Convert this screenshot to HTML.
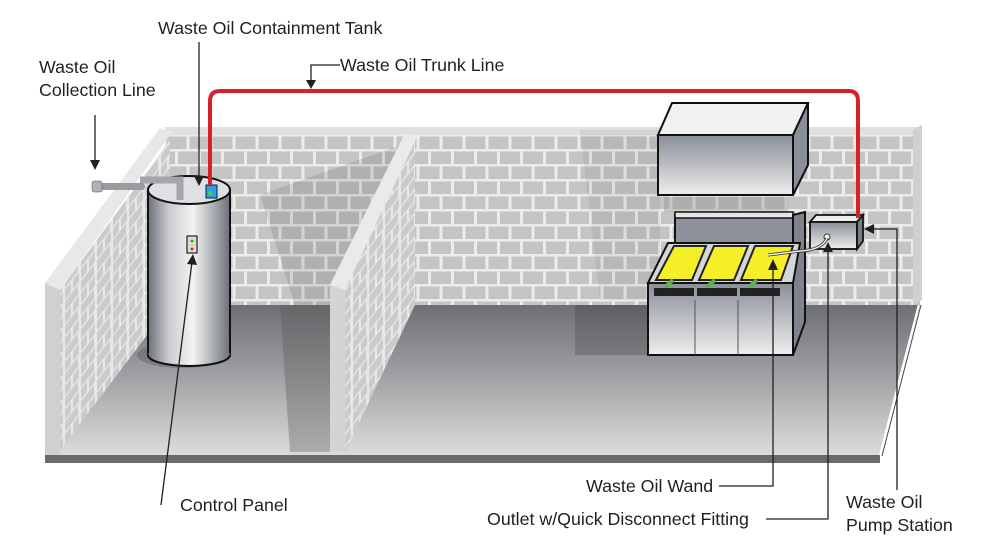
<!DOCTYPE html>
<html><head><meta charset="utf-8"><style>
html,body{margin:0;padding:0;background:#fff;width:1000px;height:536px;overflow:hidden}
text{font-family:"Liberation Sans",sans-serif;font-size:17.8px;fill:#231f20}
</style></head><body>
<svg width="1000" height="536" viewBox="0 0 1000 536" xmlns="http://www.w3.org/2000/svg">
<defs>
<pattern id="brick" width="46" height="30" patternUnits="userSpaceOnUse" x="165" y="135">
<rect width="46" height="30" fill="#ececec"/>
<rect x="1.5" y="1.5" width="20" height="12.5" fill="#c4c4c4"/>
<rect x="24.5" y="1.5" width="20" height="12.5" fill="#c4c4c4"/>
<rect x="-10" y="16.5" width="20" height="12.5" fill="#c4c4c4"/>
<rect x="13" y="16.5" width="20" height="12.5" fill="#c4c4c4"/>
<rect x="36" y="16.5" width="20" height="12.5" fill="#c4c4c4"/>
</pattern>
<pattern id="brick2" width="16" height="24" patternUnits="userSpaceOnUse" patternTransform="skewY(-52)">
<rect width="16" height="24" fill="#e8e8e8"/>
<rect x="1" y="1" width="13" height="10" fill="#cbcbcb"/>
<rect x="1" y="13" width="6" height="10" fill="#cbcbcb"/>
<rect x="9" y="13" width="6" height="10" fill="#cbcbcb"/>
</pattern>
<linearGradient id="floor" x1="0" y1="0" x2="0" y2="1">
<stop offset="0" stop-color="#6e6f73"/><stop offset="0.5" stop-color="#a3a4a7"/><stop offset="1" stop-color="#dcdcdc"/></linearGradient>
<linearGradient id="tank" x1="0" y1="0" x2="1" y2="0">
<stop offset="0" stop-color="#6d7078"/><stop offset="0.25" stop-color="#c9cbcf"/><stop offset="0.55" stop-color="#f4f4f4"/><stop offset="0.85" stop-color="#9a9da4"/><stop offset="1" stop-color="#6d7078"/></linearGradient>
<linearGradient id="metal" x1="0" y1="0" x2="0" y2="1">
<stop offset="0" stop-color="#8a8e98"/><stop offset="1" stop-color="#eeeeee"/></linearGradient>
</defs>

<polygon points="45,455 170,305 920,305 880,455" fill="url(#floor)"/>
<polygon points="45,455 880,455 880,463 45,463" fill="#6a6a6a"/>
<line x1="880" y1="455" x2="920" y2="300" stroke="#fff" stroke-width="2"/>
<line x1="882" y1="456" x2="921" y2="305" stroke="#444" stroke-width="1"/>

<rect x="165" y="135" width="755" height="170" fill="url(#brick)"/>
<rect x="165" y="127" width="755" height="8" fill="#e0e0e0"/>
<polygon points="913,130 922,125 922,300 913,305" fill="#cfcfcf"/>
<polygon points="260,195 415,140 415,305 295,305" fill="#000" opacity="0.1"/>
<polygon points="580,130 660,130 660,300 600,300" fill="#000" opacity="0.06"/>

<polygon points="60,290 170,140 170,305 60,450" fill="url(#brick2)"/>
<polygon points="45,283 160,128 172,132 60,290" fill="#e8e8e8"/>
<polygon points="45,283 60,290 60,455 45,455" fill="#d0d0d0"/>

<polygon points="280,305 330,305 330,452 290,452" fill="#555" opacity="0.35"/>

<polygon points="345,290 415,140 415,305 345,452" fill="url(#brick2)"/>
<polygon points="330,285 405,133 417,137 345,290" fill="#eaeaea"/>
<polygon points="330,285 345,290 345,452 330,452" fill="#d4d4d4"/>

<polygon points="575,305 650,305 650,355 575,355" fill="#333" opacity="0.25"/>

<ellipse cx="182" cy="355" rx="45" ry="13" fill="#555" opacity="0.4"/>
<rect x="148" y="190" width="82" height="165" fill="url(#tank)" stroke="#111" stroke-width="2"/>
<ellipse cx="189" cy="355" rx="41" ry="11" fill="url(#tank)"/>
<path d="M148,355 A41,11 0 0 0 230,355" fill="none" stroke="#111" stroke-width="2"/>
<ellipse cx="189" cy="190" rx="41" ry="14" fill="#dfe0e3" stroke="#111" stroke-width="2"/>
<rect x="95" y="183" width="50" height="7" rx="3" fill="#9a9ca2"/>
<rect x="92" y="181" width="10" height="11" rx="2" fill="#b0b2b8" stroke="#555" stroke-width="0.5"/>
<path d="M140,180 H180 V200" fill="none" stroke="#a4a6ac" stroke-width="7"/>
<rect x="206" y="185" width="11" height="13" fill="#29a3d8" stroke="#123" stroke-width="1"/>
<circle cx="210" cy="193" r="2" fill="#5c5"/>
<rect x="187" y="236" width="10" height="17" fill="#ddd" stroke="#222" stroke-width="1.2"/>
<circle cx="192" cy="241" r="1.4" fill="#2a2"/><circle cx="192" cy="245" r="1.4" fill="#dd2"/><circle cx="192" cy="249" r="1.4" fill="#c22"/>

<polygon points="658,135 672,103 808,103 793,135" fill="#f1f1f1" stroke="#111" stroke-width="2"/>
<rect x="658" y="135" width="135" height="60" fill="url(#metal)" stroke="#111" stroke-width="2"/>
<polygon points="793,135 808,103 808,165 793,195" fill="#8a8e98" stroke="#111" stroke-width="2"/>
<rect x="664" y="197" width="124" height="15" fill="#888" opacity="0.35"/>

<rect x="675" y="215" width="118" height="40" fill="#8d919b" stroke="#111" stroke-width="2"/>
<rect x="675" y="212" width="118" height="6" fill="#e5e5e5" stroke="#111" stroke-width="1.5"/>
<polygon points="793,215 805,212 805,322 793,355" fill="#7f838d" stroke="#111" stroke-width="2"/>
<polygon points="648,283 668,243 800,243 793,283" fill="#d6d6d6" stroke="#111" stroke-width="2"/>
<polygon points="656,280 674,246 706,246 692,280" fill="#f5ef27" stroke="#222" stroke-width="2"/>
<polygon points="699,280 714,246 748,246 734,280" fill="#f5ef27" stroke="#222" stroke-width="2"/>
<polygon points="741,280 755,246 793,246 781,280" fill="#f5ef27" stroke="#222" stroke-width="2"/>
<rect x="648" y="283" width="145" height="72" fill="url(#metal)" stroke="#111" stroke-width="2"/>
<rect x="654" y="288" width="40" height="8" fill="#222"/><rect x="697" y="288" width="40" height="8" fill="#222"/><rect x="740" y="288" width="40" height="8" fill="#222"/>
<line x1="695" y1="300" x2="695" y2="355" stroke="#555"/><line x1="738" y1="300" x2="738" y2="355" stroke="#555"/>
<path d="M665,287 l8,-7 M707,287 l8,-7 M749,287 l8,-7" stroke="#5ab24a" stroke-width="4"/>

<polygon points="810,222 816,215 863,215 857,222" fill="#eee" stroke="#111" stroke-width="1.8"/>
<rect x="810" y="222" width="47" height="27" fill="url(#metal)" stroke="#111" stroke-width="1.8"/>
<polygon points="857,222 863,215 863,241 857,249" fill="#7a7e88" stroke="#111" stroke-width="1.8"/>
<circle cx="827" cy="237" r="3" fill="#fff" stroke="#333"/>
<path d="M827,238 Q822,250 800,251 L768,255" fill="none" stroke="#333" stroke-width="3"/>
<path d="M827,238 Q822,250 800,251 L768,255" fill="none" stroke="#eee" stroke-width="1.5"/>

<path d="M210,185 V101 Q210,91 220,91 H849 Q858,91 858,101 V218" fill="none" stroke="#d2232a" stroke-width="4"/>

<g stroke="#231f20" stroke-width="1.3" fill="none">
<line x1="95" y1="115" x2="95" y2="162"/>
<line x1="199" y1="42" x2="199" y2="178"/>
<path d="M340,65 H311 V82"/>
<path d="M161,505 L192,262"/>
<path d="M719,486 H773 V268"/>
<path d="M766,519 H828 V250"/>
<path d="M897,490 V229 H872"/>
</g>
<g fill="#231f20">
<polygon points="90,160 100,160 95,170"/>
<polygon points="194,176 204,176 199,186"/>
<polygon points="306,80 316,80 311,89"/>
<polygon points="187,264 197,265 193,254"/>
<polygon points="768,270 778,270 773,259"/>
<polygon points="823,252 833,252 828,242"/>
<polygon points="874,224 874,234 864,229"/>
</g>

<text x="158" y="34">Waste Oil Containment Tank</text>
<text x="39" y="73">Waste Oil</text>
<text x="39" y="96">Collection Line</text>
<text x="340" y="71">Waste Oil Trunk Line</text>
<text x="180" y="511">Control Panel</text>
<text x="586" y="492">Waste Oil Wand</text>
<text x="487" y="525">Outlet w/Quick Disconnect Fitting</text>
<text x="846" y="508">Waste Oil</text>
<text x="846" y="531">Pump Station</text>
</svg>
</body></html>
